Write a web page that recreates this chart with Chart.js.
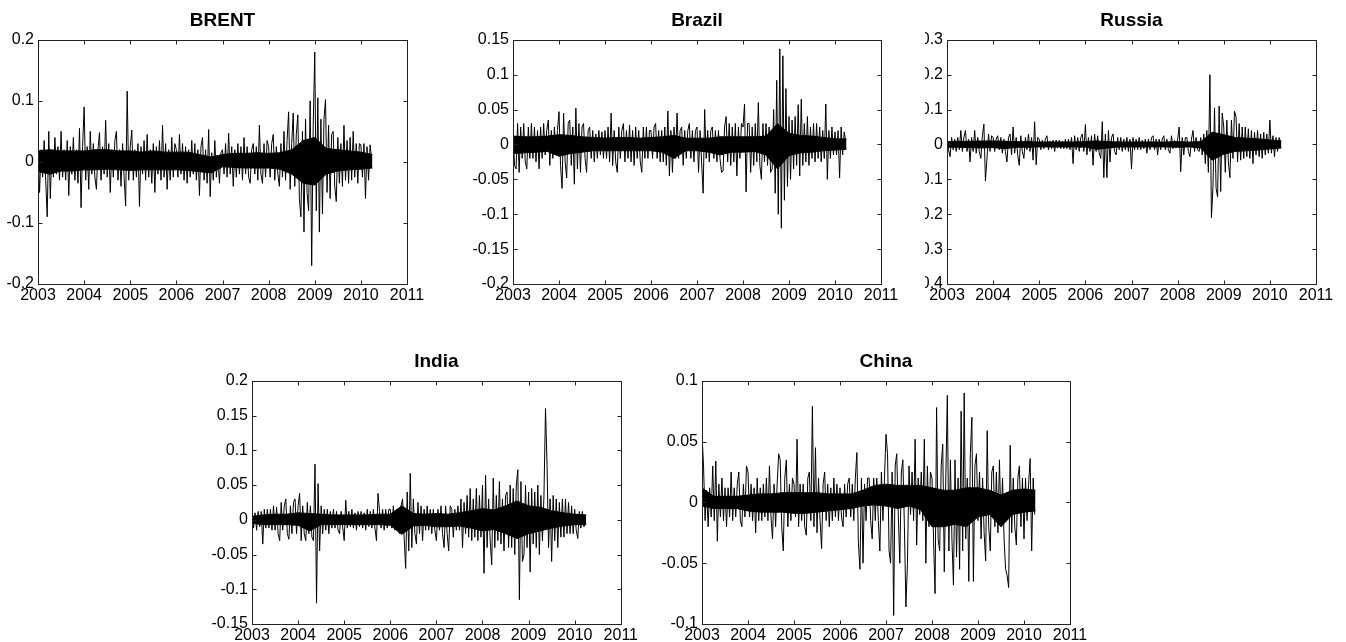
<!DOCTYPE html>
<html>
<head>
<meta charset="utf-8">
<script src="https://cdn.jsdelivr.net/npm/chart.js@4.4.1/dist/chart.umd.min.js"></script>
<style>
  body { margin: 0; background: #fff; width: 1346px; height: 642px; position: relative; overflow: hidden; }
  canvas { position: absolute; }
  .clip { position: absolute; overflow: hidden; }
</style>
</head>
<body>
<canvas id="brent" width="427" height="308" style="left:0px;top:0px"></canvas>
<canvas id="brazil" width="451" height="308" style="left:450px;top:0px"></canvas>
<div class="clip" style="left:925px;top:0px;width:421px;height:308px">
  <canvas id="russia" width="436" height="308" style="left:-25px;top:0px"></canvas>
</div>
<canvas id="india" width="440" height="301" style="left:200px;top:341px"></canvas>
<canvas id="china" width="450" height="301" style="left:640px;top:341px"></canvas>

<script>
// x axis: years; returns at ~30 samples per year (2003 -> early 2010)
const years = [2003, 2004, 2005, 2006, 2007, 2008, 2009, 2010, 2011];
const perYear = 30;
// the solid dark core of each series, read per quarter (2003.0 -> 2010.25)
const bandPerYear = 4;

const brentTicks = [-0.2, -0.1, 0, 0.1, 0.2];
const brazilTicks = [-0.2, -0.15, -0.1, -0.05, 0, 0.05, 0.1, 0.15];
const russiaTicks = [-0.4, -0.3, -0.2, -0.1, 0, 0.1, 0.2, 0.3];
const indiaTicks = [-0.15, -0.1, -0.05, 0, 0.05, 0.1, 0.15, 0.2];
const chinaTicks = [-0.1, -0.05, 0, 0.05, 0.1];

const brentReturns = [
  // 2003
  0.03, -0.05, 0.02, -0.025, 0.035, -0.03, -0.09, 0.05, -0.06, 0.02,
  -0.025, 0.04, -0.02, 0.025, -0.03, 0.05, -0.025, 0.02, -0.03, 0.035,
  -0.055, 0.025, -0.02, 0.04, -0.03, 0.02, -0.035, 0.055, -0.075, 0.025,
  // 2004
  0.09, -0.03, 0.025, -0.045, 0.05, -0.02, 0.03, -0.025, -0.045, 0.02,
  0.048, -0.03, 0.025, -0.02, 0.068, -0.025, 0.03, -0.05, 0.02, -0.025,
  0.035, 0.05, -0.03, 0.02, -0.04, 0.03, -0.025, -0.072, 0.116, -0.03,
  // 2005
  0.025, 0.052, -0.03, 0.02, -0.025, 0.03, -0.073, 0.025, -0.02, 0.035,
  -0.03, 0.045, -0.025, 0.02, -0.035, 0.03, -0.05, 0.025, -0.02, 0.035,
  -0.03, 0.06, -0.025, 0.03, -0.045, 0.02, -0.03, 0.04, -0.025, 0.03,
  // 2006
  0.02, -0.025, 0.045, -0.02, 0.03, -0.03, 0.025, -0.035, 0.02, -0.025,
  0.035, -0.02, 0.03, -0.03, 0.02, -0.055, 0.025, 0.04, -0.03, 0.02,
  -0.035, 0.053, -0.057, 0.015, -0.03, 0.035, -0.025, 0.01, -0.035, 0.015,
  // 2007
  0.02, -0.02, 0.03, -0.025, 0.047, -0.02, 0.025, -0.04, 0.02, -0.025,
  0.03, -0.02, 0.025, -0.03, 0.04, -0.02, 0.025, -0.025, -0.035, 0.02,
  0.03, -0.02, 0.025, -0.03, 0.06, -0.02, -0.035, 0.03, -0.025, 0.035,
  // 2008
  0.025, -0.025, 0.03, 0.045, -0.03, 0.025, -0.02, -0.04, 0.03, -0.025,
  0.05, -0.03, 0.035, 0.082, -0.045, 0.03, 0.08, -0.04, 0.045, 0.077,
  -0.06, -0.09, 0.05, -0.115, 0.07, -0.05, -0.08, 0.1, -0.17, 0.06,
  // 2009
  0.18, -0.08, 0.105, -0.115, 0.07, -0.085, 0.07, 0.102, -0.05, 0.06,
  -0.06, 0.045, 0.05, -0.04, -0.065, 0.04, -0.035, 0.03, -0.04, 0.06,
  -0.03, 0.035, -0.035, 0.04, -0.03, 0.05, -0.025, 0.03, -0.035, 0.03,
  // 2010
  0.028, -0.025, 0.03, -0.06, 0.025, -0.03, 0.028, 0.005
];
const brentCoreHigh = [
  0.018, 0.02, 0.018, 0.018, 0.018, 0.02, 0.02, 0.018, 0.018, 0.016,
  0.018, 0.016, 0.016, 0.016, 0.012, 0.008, 0.012, 0.014, 0.014, 0.015,
  0.014, 0.015, 0.02, 0.035, 0.04, 0.022, 0.02, 0.018, 0.016, 0.012
];
const brentCoreLow = [
  -0.016, -0.02, -0.015, -0.015, -0.013, -0.013, -0.012, -0.013, -0.014, -0.013,
  -0.013, -0.013, -0.013, -0.014, -0.016, -0.018, -0.008, -0.009, -0.01, -0.01,
  -0.01, -0.012, -0.02, -0.035, -0.038, -0.02, -0.015, -0.013, -0.012, -0.01
];

const brazilReturns = [
  // 2003
  0.028, -0.03, -0.035, 0.03, -0.04, 0.025, -0.02, 0.03, -0.025, -0.035,
  0.025, -0.02, 0.03, -0.02, 0.025, -0.025, 0.02, -0.035, 0.025, -0.02,
  0.03, -0.015, 0.02, 0.035, -0.03, 0.02, -0.02, 0.025, -0.015, 0.02,
  // 2004
  0.047, -0.03, -0.063, 0.045, -0.025, -0.048, 0.03, 0.035, -0.03, 0.025,
  -0.057, 0.052, -0.035, 0.03, -0.04, 0.025, 0.03, -0.02, -0.04, 0.02,
  0.025, -0.02, 0.02, -0.025, 0.015, -0.02, 0.02, -0.015, 0.018, -0.02,
  // 2005
  0.02, -0.02, 0.025, -0.025, 0.045, -0.03, 0.02, -0.025, -0.04, 0.025,
  -0.02, 0.02, 0.03, -0.025, 0.02, -0.02, 0.028, -0.025, 0.02, -0.03,
  0.025, -0.02, 0.02, -0.025, -0.04, 0.025, -0.02, 0.025, -0.02, 0.02,
  // 2006
  0.02, -0.02, 0.025, 0.03, -0.02, 0.02, -0.025, 0.02, -0.025, 0.025,
  -0.03, 0.048, -0.045, 0.02, -0.04, 0.025, -0.02, 0.045, -0.02, 0.02,
  0.025, -0.03, 0.02, -0.02, 0.02, 0.03, -0.02, 0.02, -0.025, 0.02,
  // 2007
  0.025, -0.04, 0.02, -0.025, -0.07, 0.05, -0.02, 0.02, -0.025, 0.02,
  0.025, -0.02, 0.02, -0.025, 0.02, -0.02, -0.04, -0.038, 0.025, 0.04,
  -0.025, 0.03, -0.03, 0.025, -0.025, 0.03, -0.045, 0.025, -0.02, 0.03,
  // 2008
  0.025, 0.058, -0.068, 0.03, 0.03, -0.04, 0.025, -0.03, 0.03, -0.025,
  0.06, -0.03, -0.05, 0.03, -0.025, 0.03, -0.03, 0.025, -0.04, -0.035,
  0.05, -0.07, 0.092, -0.1, 0.137, -0.12, 0.127, -0.08, 0.08, -0.06,
  // 2009
  0.04, -0.05, 0.035, -0.035, 0.04, -0.03, 0.057, -0.045, 0.065, -0.03,
  0.03, -0.025, 0.04, -0.03, 0.025, -0.02, 0.03, -0.025, 0.03, -0.02,
  0.025, -0.025, 0.02, -0.02, 0.058, -0.05, 0.02, -0.02, 0.025, -0.015,
  // 2010
  0.018, -0.015, 0.02, -0.048, 0.025, -0.015, 0.018, 0.005
];
const brazilCoreHigh = [
  0.012, 0.011, 0.011, 0.012, 0.014, 0.013, 0.011, 0.01, 0.009, 0.01,
  0.01, 0.009, 0.01, 0.011, 0.013, 0.009, 0.009, 0.009, 0.011, 0.011,
  0.011, 0.011, 0.012, 0.03, 0.016, 0.013, 0.012, 0.01, 0.008, 0.008
];
const brazilCoreLow = [
  -0.013, -0.012, -0.011, -0.01, -0.017, -0.013, -0.011, -0.009, -0.009, -0.009,
  -0.009, -0.009, -0.009, -0.011, -0.02, -0.009, -0.009, -0.011, -0.015, -0.011,
  -0.011, -0.01, -0.015, -0.035, -0.016, -0.012, -0.011, -0.009, -0.008, -0.007
];

const russiaReturns = [
  // 2003
  0.015, -0.015, -0.035, 0.02, -0.015, 0.015, -0.02, 0.02, -0.015, 0.04,
  -0.02, 0.02, 0.04, -0.02, 0.015, -0.05, 0.02, -0.02, 0.04, -0.025,
  0.02, -0.02, -0.04, 0.025, 0.058, -0.105, -0.04, 0.03, -0.02, 0.025,
  // 2004
  0.02, -0.02, 0.015, 0.025, -0.015, 0.02, -0.025, 0.015, -0.02, -0.05,
  0.02, 0.03, -0.03, 0.05, -0.025, 0.02, -0.03, -0.06, 0.025, -0.02,
  -0.04, 0.02, -0.015, 0.03, -0.02, 0.02, -0.045, 0.065, -0.058, 0.02,
  // 2005
  0.015, -0.015, 0.012, -0.012, 0.015, 0.025, -0.015, 0.01, -0.012, 0.012,
  -0.02, 0.012, -0.01, 0.012, -0.012, 0.01, -0.012, 0.015, -0.012, 0.015,
  -0.015, 0.02, -0.055, 0.025, -0.015, 0.02, -0.02, 0.02, 0.03, -0.02,
  // 2006
  0.057, -0.03, 0.02, -0.02, 0.025, -0.06, 0.03, -0.02, 0.025, -0.025,
  -0.04, 0.065, -0.095, 0.03, -0.095, 0.04, -0.05, 0.02, 0.03, -0.02,
  -0.03, 0.02, -0.015, 0.02, -0.02, 0.015, -0.015, 0.02, -0.02, 0.015,
  // 2007
  -0.07, 0.02, -0.015, 0.015, -0.015, 0.02, -0.015, 0.012, -0.012, 0.015,
  -0.025, 0.015, -0.015, 0.02, 0.025, -0.015, 0.015, -0.03, 0.015, -0.015,
  0.015, 0.025, -0.015, 0.015, -0.015, -0.025, 0.025, -0.012, 0.012, -0.01,
  // 2008
  0.015, 0.05, -0.078, 0.02, -0.03, 0.02, 0.02, -0.02, -0.035, 0.015,
  0.04, -0.02, 0.02, -0.015, -0.02, 0.02, -0.03, 0.03, -0.055, 0.04,
  -0.08, 0.2, -0.21, -0.12, 0.105, -0.125, -0.15, 0.11, -0.135, 0.09,
  // 2009
  0.05, -0.08, 0.07, -0.05, -0.095, 0.07, -0.04, 0.095, 0.08, -0.05,
  0.06, -0.045, 0.05, -0.04, 0.05, -0.035, 0.045, -0.04, 0.04, -0.055,
  0.035, -0.03, 0.04, -0.035, 0.03, -0.04, 0.035, -0.03, 0.03, -0.025,
  // 2010
  0.07, -0.025, 0.025, -0.035, 0.02, -0.02, 0.02, 0.005
];
const russiaCoreHigh = [
  0.008, 0.009, 0.009, 0.01, 0.01, 0.009, 0.008, 0.008, 0.007, 0.007,
  0.007, 0.007, 0.008, 0.01, 0.008, 0.007, 0.007, 0.007, 0.007, 0.007,
  0.008, 0.007, 0.008, 0.035, 0.028, 0.02, 0.018, 0.016, 0.013, 0.01
];
const russiaCoreLow = [
  -0.008, -0.008, -0.009, -0.01, -0.009, -0.012, -0.008, -0.008, -0.007, -0.007,
  -0.007, -0.007, -0.008, -0.014, -0.01, -0.007, -0.007, -0.007, -0.007, -0.007,
  -0.008, -0.007, -0.01, -0.045, -0.028, -0.02, -0.018, -0.016, -0.013, -0.01
];

const indiaReturns = [
  // 2003
  0.008, -0.012, 0.01, -0.015, 0.012, -0.01, 0.012, -0.035, 0.015, -0.012,
  0.015, -0.012, 0.015, -0.015, 0.02, -0.015, 0.018, -0.02, -0.03, 0.025,
  -0.015, 0.02, 0.03, -0.02, -0.028, 0.02, -0.02, 0.025, 0.03, -0.02,
  // 2004
  0.02, 0.038, -0.03, 0.02, -0.02, -0.03, 0.025, -0.02, 0.02, -0.025,
  -0.03, 0.08, -0.12, 0.052, -0.045, 0.02, -0.02, 0.015, -0.015, 0.015,
  -0.02, 0.012, -0.012, 0.015, -0.012, 0.012, -0.015, -0.02, 0.012, -0.01,
  // 2005
  -0.03, 0.028, -0.012, 0.012, -0.01, 0.015, -0.012, 0.01, -0.015, 0.012,
  -0.01, 0.012, -0.012, 0.01, -0.015, 0.015, -0.01, 0.012, -0.012, 0.015,
  -0.012, -0.03, 0.038, 0.012, -0.012, 0.015, -0.015, 0.015, -0.012, 0.015,
  // 2006
  0.015, -0.012, 0.02, -0.015, 0.015, -0.015, -0.02, 0.02, 0.03, -0.025,
  -0.07, 0.04, -0.045, 0.067, -0.04, 0.03, -0.02, -0.035, 0.025, -0.02,
  0.02, -0.03, 0.015, -0.015, 0.02, -0.015, 0.015, -0.02, 0.015, -0.015,
  // 2007
  -0.03, 0.015, -0.015, 0.02, -0.02, -0.04, 0.02, -0.02, -0.045, 0.02,
  0.015, -0.025, 0.015, -0.015, 0.02, -0.015, 0.03, -0.04, 0.025, -0.02,
  0.035, -0.025, 0.045, -0.03, 0.03, -0.025, 0.045, -0.03, 0.035, -0.025,
  // 2008
  0.05, -0.077, 0.064, -0.04, 0.03, -0.03, -0.065, 0.06, -0.04, 0.035,
  -0.03, 0.055, -0.035, 0.03, -0.045, 0.035, 0.04, -0.04, 0.05, -0.04,
  0.045, -0.05, 0.05, 0.072, -0.115, 0.055, -0.06, -0.05, 0.05, -0.04,
  // 2009
  0.04, -0.075, 0.045, -0.035, 0.04, -0.04, 0.05, -0.05, 0.035, -0.03,
  0.035, 0.16, 0.08, -0.04, 0.03, -0.06, 0.035, -0.03, 0.03, -0.04,
  0.025, -0.025, 0.03, -0.025, 0.03, -0.02, 0.025, -0.02, 0.02, -0.02,
  // 2010
  0.015, -0.015, -0.027, 0.012, -0.012, 0.012, -0.01, -0.005
];
const indiaCoreHigh = [
  0.005, 0.007, 0.008, 0.008, 0.01, 0.009, 0.008, 0.007, 0.007, 0.007,
  0.007, 0.008, 0.008, 0.02, 0.009, 0.008, 0.009, 0.008, 0.01, 0.013,
  0.016, 0.014, 0.02, 0.027, 0.02, 0.018, 0.013, 0.01, 0.008, 0.007
];
const indiaCoreLow = [
  -0.005, -0.007, -0.007, -0.007, -0.008, -0.016, -0.007, -0.007, -0.007, -0.007,
  -0.007, -0.007, -0.008, -0.021, -0.009, -0.008, -0.01, -0.01, -0.009, -0.012,
  -0.016, -0.014, -0.02, -0.027, -0.02, -0.016, -0.012, -0.009, -0.007, -0.007
];

const chinaReturns = [
  // 2003
  0.057, 0.03, -0.015, 0.01, -0.02, 0.012, -0.012, 0.03, -0.015, 0.034,
  -0.032, 0.015, -0.012, 0.02, -0.015, 0.012, -0.02, 0.012, -0.012, 0.025,
  -0.015, 0.012, -0.012, 0.015, 0.025, -0.015, -0.02, 0.015, -0.012, 0.03,
  // 2004
  0.025, -0.012, 0.015, -0.015, 0.012, -0.025, 0.02, -0.015, 0.012, -0.015,
  0.015, -0.012, 0.02, -0.015, 0.03, -0.012, -0.03, 0.015, -0.02, 0.015,
  0.04, 0.035, -0.02, -0.04, 0.02, 0.035, -0.02, 0.015, -0.015, 0.02,
  // 2005
  0.015, -0.012, 0.052, -0.02, 0.015, -0.015, 0.015, -0.02, -0.027, 0.02,
  0.025, -0.015, 0.079, -0.02, 0.045, -0.025, 0.02, -0.015, -0.038, 0.015,
  0.025, -0.015, 0.015, -0.02, 0.012, -0.015, 0.02, -0.012, 0.015, -0.015,
  // 2006
  0.012, -0.012, -0.02, 0.015, -0.012, 0.015, 0.02, -0.012, 0.015, -0.015,
  0.02, 0.041, -0.033, -0.055, 0.02, -0.05, 0.015, -0.015, 0.02, 0.02,
  -0.015, -0.03, 0.02, -0.015, 0.02, -0.015, -0.04, 0.025, -0.015, 0.02,
  // 2007
  0.056, 0.04, -0.04, -0.05, 0.025, -0.093, 0.03, 0.04, -0.01, -0.05,
  0.025, 0.035, -0.02, -0.086, -0.05, 0.03, -0.01, 0.025, -0.015, 0.052,
  -0.035, 0.02, -0.01, 0.025, -0.015, 0.052, -0.05, 0.03, -0.02, 0.025,
  // 2008
  0.02, -0.03, -0.075, 0.078, -0.03, -0.04, 0.03, 0.048, -0.057, 0.02,
  0.088, -0.04, 0.035, -0.03, -0.068, 0.035, -0.045, 0.02, -0.055, 0.075,
  -0.04, 0.09, -0.03, 0.02, -0.065, 0.04, 0.07, -0.065, 0.03, 0.04,
  // 2009
  -0.015, 0.025, -0.03, 0.02, -0.025, -0.048, 0.059, -0.02, -0.04, 0.025,
  0.03, -0.02, 0.025, -0.025, 0.035, -0.02, 0.02, -0.03, -0.055, -0.06,
  -0.07, 0.047, -0.025, 0.02, -0.02, -0.035, 0.02, 0.03, -0.02, 0.02,
  // 2010
  -0.03, 0.02, -0.015, 0.015, 0.036, -0.04, 0.02, -0.01
];
const chinaCoreHigh = [
  0.012, 0.005, 0.005, 0.005, 0.006, 0.007, 0.007, 0.008, 0.008, 0.008,
  0.008, 0.007, 0.007, 0.007, 0.01, 0.014, 0.015, 0.014, 0.014, 0.014,
  0.012, 0.01, 0.01, 0.012, 0.012, 0.01, 0.006, 0.01, 0.011, 0.01
];
const chinaCoreLow = [
  -0.003, -0.005, -0.005, -0.005, -0.007, -0.008, -0.008, -0.008, -0.009, -0.009,
  -0.008, -0.007, -0.006, -0.005, -0.003, -0.002, -0.003, -0.005, -0.003, -0.006,
  -0.02, -0.02, -0.018, -0.02, -0.012, -0.01, -0.02, -0.01, -0.008, -0.007
];

Chart.defaults.font.family = "'Liberation Sans', Arial, Helvetica, sans-serif";
Chart.defaults.color = "#000";

// box round the plot with inward ticks on all four sides
const boxPlugin = {
  id: "matlabBox",
  afterDraw(chart) {
    const ctx = chart.ctx;
    const a = chart.chartArea;
    const sx = chart.scales.x;
    const sy = chart.scales.y;
    const l = Math.round(a.left) + 0.5, r = Math.round(a.right) + 0.5;
    const t = Math.round(a.top) + 0.5, b = Math.round(a.bottom) + 0.5;
    ctx.save();
    ctx.strokeStyle = "#222";
    ctx.lineWidth = 1;
    ctx.strokeRect(l, t, r - l, b - t);
    ctx.beginPath();
    sx.ticks.forEach((tk) => {
      const px = Math.round(sx.getPixelForValue(tk.value)) + 0.5;
      ctx.moveTo(px, b); ctx.lineTo(px, b - 4);
      ctx.moveTo(px, t); ctx.lineTo(px, t + 4);
    });
    sy.ticks.forEach((tk) => {
      const py = Math.round(sy.getPixelForValue(tk.value)) + 0.5;
      ctx.moveTo(l, py); ctx.lineTo(l + 4, py);
      ctx.moveTo(r, py); ctx.lineTo(r - 4, py);
    });
    ctx.stroke();
    ctx.restore();
  }
};

function toPoints(values, step) {
  return values.map((v, i) => ({ x: years[0] + i / step, y: v }));
}

function makeChart(id, title, values, coreHigh, coreLow, yTicks, axisWidth, padRight, axisHeight) {
  return new Chart(document.getElementById(id), {
    type: "line",
    data: {
      datasets: [
        {
          data: toPoints(values, perYear),
          borderColor: "#000",
          borderWidth: 1,
          borderJoinStyle: "round",
          pointRadius: 0,
          tension: 0,
          fill: false
        },
        {
          data: toPoints(coreHigh, bandPerYear),
          borderColor: "#000",
          borderWidth: 1,
          pointRadius: 0,
          tension: 0,
          fill: false
        },
        {
          data: toPoints(coreLow, bandPerYear),
          borderColor: "#000",
          backgroundColor: "#000",
          borderWidth: 1,
          pointRadius: 0,
          tension: 0,
          fill: "-1"
        }
      ]
    },
    options: {
      responsive: false,
      animation: false,
      events: [],
      layout: { padding: { left: 0, top: 0, right: padRight, bottom: 0 } },
      plugins: {
        legend: { display: false },
        tooltip: { enabled: false },
        title: {
          display: true,
          text: title,
          fullSize: false,
          color: "#000",
          font: { size: 19, weight: "bold" },
          padding: { top: 9, bottom: 8 }
        }
      },
      scales: {
        x: {
          type: "linear",
          min: years[0],
          max: years[years.length - 1],
          grid: { display: false, drawTicks: false },
          border: { display: false },
          afterBuildTicks: (s) => { s.ticks = years.map((v) => ({ value: v })); },
          afterFit: (s) => { s.height = axisHeight; },
          ticks: {
            color: "#000",
            font: { size: 16 },
            padding: 2,
            maxRotation: 0,
            autoSkip: false,
            callback: (v) => String(v)
          }
        },
        y: {
          type: "linear",
          min: yTicks[0],
          max: yTicks[yTicks.length - 1],
          grid: { display: false, drawTicks: false },
          border: { display: false },
          afterBuildTicks: (s) => { s.ticks = yTicks.map((v) => ({ value: v })); },
          afterFit: (s) => { s.width = axisWidth; },
          ticks: {
            color: "#000",
            font: { size: 16 },
            padding: 4,
            autoSkip: false,
            callback: (v) => String(v)
          }
        }
      }
    },
    plugins: [boxPlugin]
  });
}

makeChart("brent", "BRENT", brentReturns, brentCoreHigh, brentCoreLow, brentTicks, 38, 20, 24);
makeChart("brazil", "Brazil", brazilReturns, brazilCoreHigh, brazilCoreLow, brazilTicks, 63, 20, 24);
makeChart("russia", "Russia", russiaReturns, russiaCoreHigh, russiaCoreLow, russiaTicks, 47, 20, 24);
makeChart("india", "India", indiaReturns, indiaCoreHigh, indiaCoreLow, indiaTicks, 52, 19, 18);
makeChart("china", "China", chinaReturns, chinaCoreHigh, chinaCoreLow, chinaTicks, 62, 20, 18);
</script>
</body>
</html>
